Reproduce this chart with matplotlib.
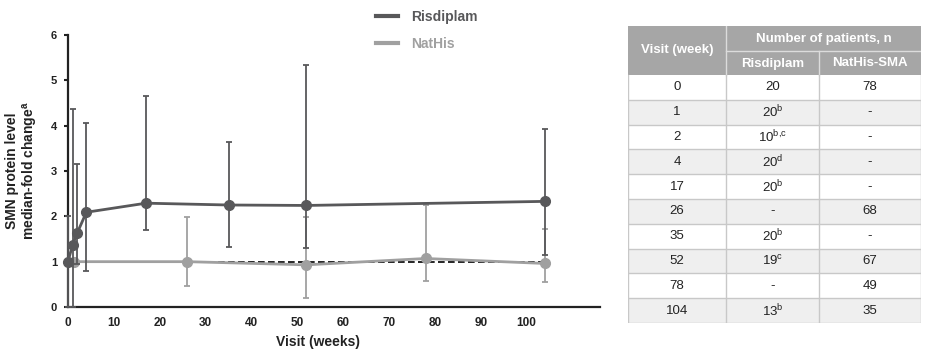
import matplotlib.pyplot as plt
from matplotlib.lines import Line2D
from matplotlib.patches import Rectangle

plt.rcParams['font.family'] = ['Liberation Sans', 'DejaVu Sans']
plt.rcParams['mathtext.fontset'] = 'custom'
plt.rcParams['mathtext.rm'] = 'Liberation Sans'
plt.rcParams['mathtext.bf'] = 'Liberation Sans:bold'
plt.rcParams['mathtext.default'] = 'regular'

# Risdiplam: median-fold change with error bar ends
ris_weeks = [0, 1, 2, 4, 17, 35, 52, 104]
ris_median = [1.0, 1.37, 1.63, 2.09, 2.29, 2.25, 2.24, 2.33]
ris_low = [0.0, 0.0, 0.95, 0.80, 1.70, 1.32, 1.31, 1.14]
ris_high = [2.0, 4.36, 3.16, 4.06, 4.66, 3.65, 5.33, 3.92]

# NatHis
nat_weeks = [1.3, 26, 52, 78, 104]
nat_median = [1.0, 1.0, 0.93, 1.07, 0.96]
nat_low = [1.0, 0.46, 0.20, 0.57, 0.56]
nat_high = [1.0, 1.99, 1.99, 2.25, 1.71]

ref_level = 1.0
x_ticks = [0, 10, 20, 30, 40, 50, 60, 70, 80, 90, 100]
y_ticks = [0, 1, 2, 3, 4, 5, 6]

# table
visits = ['0', '1', '2', '4', '17', '26', '35', '52', '78', '104']
ris_n = ['20', r'20$^{b}$', r'10$^{b{,}c}$', r'20$^{d}$', r'20$^{b}$', '-',
         r'20$^{b}$', r'19$^{c}$', '-', r'13$^{b}$']
nat_n = ['78', '-', '-', '-', '-', '68', '-', '67', '49', '35']

RIS_C = '#58585a'
NAT_C = '#a0a0a0'

W, H = 933, 361
fig = plt.figure(figsize=(W / 100, H / 100), dpi=100)

ax = fig.add_axes([68 / W, 1 - 307 / H, 532 / W, 272 / H])
ax.plot([0, max(ris_weeks)], [ref_level, ref_level], color='black', lw=1.2,
        dashes=(4, 2), zorder=1)

def yerr(med, lo, hi):
    return [[m - l for m, l in zip(med, lo)], [h - m for m, h in zip(med, hi)]]

ax.errorbar(nat_weeks, nat_median, yerr=yerr(nat_median, nat_low, nat_high),
            fmt='-o', color=NAT_C, ms=7, lw=2, elinewidth=1.3, capsize=2,
            capthick=1.3, clip_on=False, zorder=2)
ax.errorbar(ris_weeks, ris_median, yerr=yerr(ris_median, ris_low, ris_high),
            fmt='-o', color=RIS_C, ms=7, lw=2, elinewidth=1.3, capsize=2,
            capthick=1.3, clip_on=False, zorder=3)

ax.set_xlim(0, 116)
ax.set_ylim(0, 6)
ax.set_xticks(x_ticks)
ax.set_yticks(y_ticks)
for s in ['top', 'right']:
    ax.spines[s].set_visible(False)
for s in ['left', 'bottom']:
    ax.spines[s].set_linewidth(1.6)
    ax.spines[s].set_color('#222222')
ax.tick_params(axis='y', length=3, width=1.5, pad=5, labelsize=8, colors='#222222')
ax.tick_params(axis='x', length=0, pad=7, labelsize=8.5, colors='#222222')
for lab in ax.get_xticklabels() + ax.get_yticklabels():
    lab.set_fontweight('bold')

ax.set_xlabel('Visit (weeks)', fontsize=10, fontweight='bold', color='#222222')
ax.xaxis.set_label_coords((318 - 68) / 532, -(342 - 307) / 272)
ax.xaxis.label.set_va('center')
ax.set_ylabel('SMN protein level\nmedian-fold change$^{a}$', fontsize=10,
              fontweight='bold', color='#222222', linespacing=1.1)
ax.yaxis.set_label_coords((22.5 - 68) / 532, 0.5)
ax.yaxis.label.set_va('center')

handles = [Line2D([], [], color=RIS_C, lw=3), Line2D([], [], color=NAT_C, lw=3)]
leg = fig.legend(handles, ['Risdiplam', 'NatHis'], loc='upper left',
                 bbox_to_anchor=(376 / W, 1 - 10 / H), frameon=False,
                 borderpad=0, borderaxespad=0, handlelength=1.6,
                 handletextpad=0.9, labelspacing=0.95,
                 prop={'size': 10, 'weight': 'bold'}, labelcolor='linecolor')

# table drawn in pixel units
tab = fig.add_axes([628 / W, 1 - 323 / H, 293 / W, 297 / H])
tab.set_xlim(0, 293)
tab.set_ylim(297, 0)
tab.axis('off')
cx = [0, 98, 191, 293]
h1, h2 = 25, 49
rh = (297 - h2) / len(visits)
HEAD_C = '#a6a6a6'
GRID_C = '#c8c8c8'

tab.add_patch(Rectangle((0, 0), 293, h2, color=HEAD_C, lw=0))
tab.plot([cx[1], cx[1]], [0, h2], color='#dcdcdc', lw=1)
tab.plot([cx[1], cx[3]], [h1, h1], color='#dcdcdc', lw=1)
tab.plot([cx[2], cx[2]], [h1, h2], color='#dcdcdc', lw=1)
hk = dict(color='white', fontsize=9.5, fontweight='bold', ha='center', va='center')
tab.text(cx[1] / 2, h2 / 2, 'Visit (week)', **hk)
tab.text((cx[1] + cx[3]) / 2, h1 / 2 + 0.5, 'Number of patients, n', **hk)
tab.text((cx[1] + cx[2]) / 2, (h1 + h2) / 2 + 0.5, 'Risdiplam', **hk)
tab.text((cx[2] + cx[3]) / 2, (h1 + h2) / 2 + 0.5, 'NatHis-SMA', **hk)

bk = dict(color='#222222', fontsize=9.5, ha='center', va='center')
for i, (v, r, n) in enumerate(zip(visits, ris_n, nat_n)):
    y0 = h2 + i * rh
    face = 'white' if i % 2 == 0 else '#efefef'
    tab.add_patch(Rectangle((0, y0), 293, rh, facecolor=face, lw=0))
    tab.plot([0, 293], [y0 + rh, y0 + rh], color=GRID_C, lw=1)
    tab.text((cx[0] + cx[1]) / 2, y0 + rh / 2, v, **bk)
    tab.text((cx[1] + cx[2]) / 2, y0 + rh / 2, r, **bk)
    tab.text((cx[2] + cx[3]) / 2, y0 + rh / 2, n, **bk)
for x in cx:
    tab.plot([x, x], [h2, 297], color=GRID_C, lw=1)

fig.savefig('out.png', dpi=100)
